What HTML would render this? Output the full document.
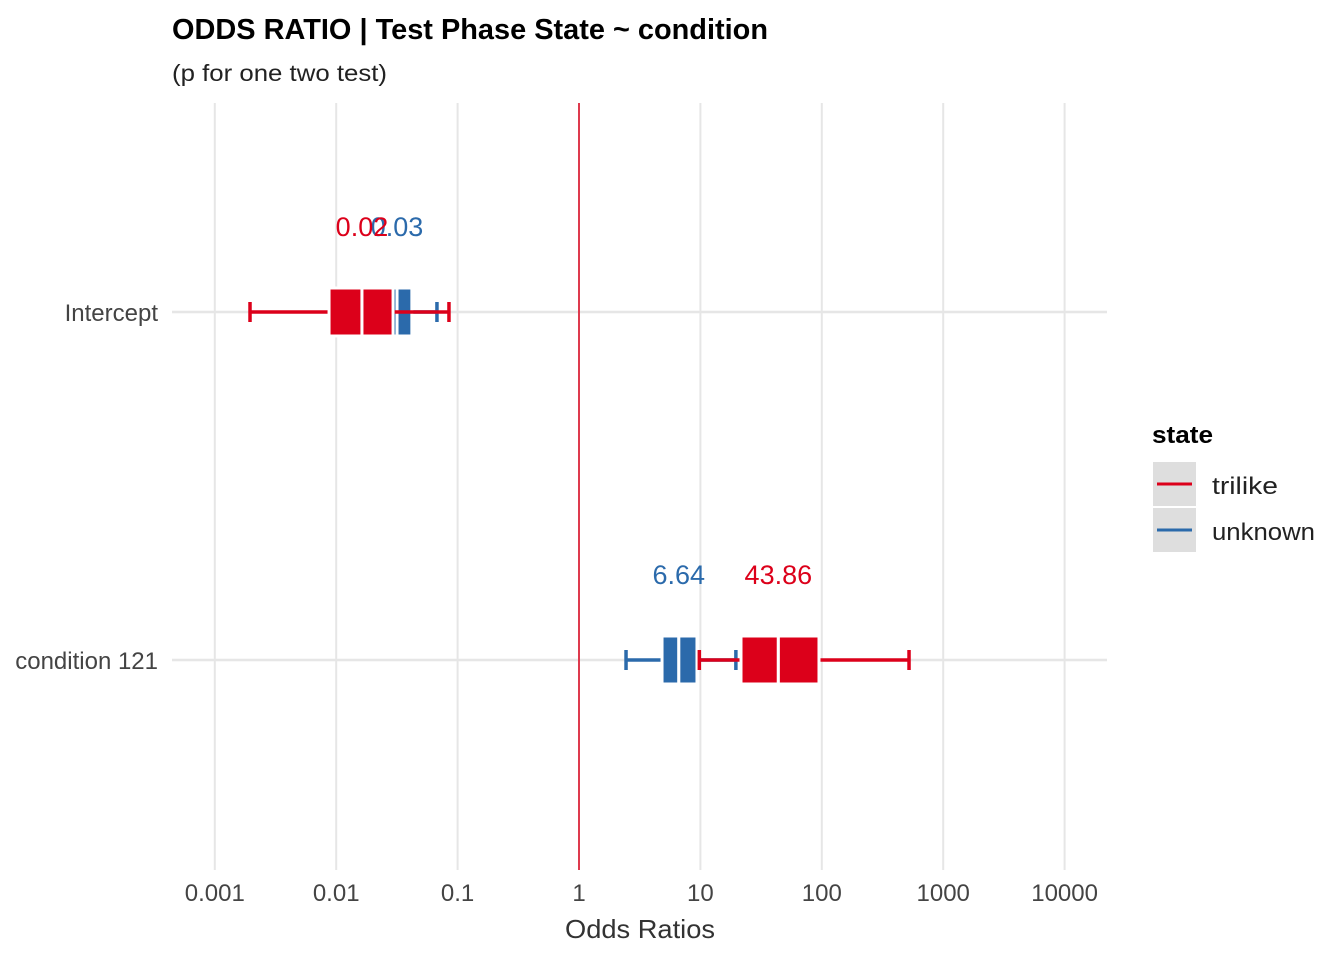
<!DOCTYPE html>
<html><head><meta charset="utf-8"><style>
body{margin:0;background:#fff;}
svg{display:block;font-family:"Liberation Sans",sans-serif;}
</style></head><body>
<svg id="chart" width="1344" height="960">
<text x="172" y="39" font-size="29" font-weight="bold" textLength="596" lengthAdjust="spacingAndGlyphs">ODDS RATIO | Test Phase State ~ condition</text>
<text x="172" y="81" font-size="23" fill="#222" textLength="215" lengthAdjust="spacingAndGlyphs">(p for one two test)</text>
<g id="grid"></g>
<g id="marks"></g>
<text x="640" y="938" font-size="26" fill="#333" text-anchor="middle" textLength="150" lengthAdjust="spacingAndGlyphs">Odds Ratios</text>
<g>
<text x="1152" y="443" font-size="24" font-weight="bold" textLength="61" lengthAdjust="spacingAndGlyphs">state</text>
<rect x="1153" y="462" width="43" height="44" fill="#dedede"/>
<line x1="1157" y1="484" x2="1192" y2="484" stroke="#DC001A" stroke-width="3"/>
<text x="1212" y="494" font-size="24" fill="#222" textLength="66" lengthAdjust="spacingAndGlyphs">trilike</text>
<rect x="1153" y="508" width="43" height="44" fill="#dedede"/>
<line x1="1157" y1="530" x2="1192" y2="530" stroke="#2B6AAB" stroke-width="3"/>
<text x="1212" y="540" font-size="24" fill="#222" textLength="103" lengthAdjust="spacingAndGlyphs">unknown</text>
</g>
</svg>
<script>
const tickValues=[0.001,0.01,0.1,1,10,100,1000,10000];
const tickLabels=["0.001","0.01","0.1","1","10","100","1000","10000"];
const rows=["Intercept","condition 121"];
const series=["unknown","trilike"];
const colors={trilike:"#DC001A",unknown:"#2B6AAB"};
// per series: [intercept, condition]
const trilikeLow=[0.00195,9.8];
const trilikeQ1=[0.00873,21.6];
const trilikeEst=[0.0163,43.86];
const trilikeQ3=[0.0294,94.8];
const trilikeHigh=[0.0849,523];
const trilikeLabels=["0.02","43.86"];
const unknownLow=[0.012,2.44];
const unknownQ1=[0.02,4.83];
const unknownEst=[0.0317,6.64];
const unknownQ3=[0.042,9.37];
const unknownHigh=[0.0676,19.6];
const unknownLabels=["0.03","6.64"];

const X=v=>579+121.4*Math.log10(v);
const rowY=[312,660];
const NS="http://www.w3.org/2000/svg";
function mk(tag,attrs,parent){const e=document.createElementNS(NS,tag);for(const k in attrs)e.setAttribute(k,attrs[k]);parent.appendChild(e);return e;}
const grid=document.getElementById('grid'),marks=document.getElementById('marks');
tickValues.forEach((v,i)=>{
  const l=mk('line',{x1:X(v),x2:X(v),y1:103,y2:870,stroke:'#e6e6e6','stroke-width':2},grid);
  
  
  const t=mk('text',{x:X(v),y:901,'font-size':24,fill:'#444','text-anchor':'middle'},grid);
  t.textContent=tickLabels[i];
  
  
});
rows.forEach((r,i)=>{
  const l=mk('line',{x1:172,x2:1107,y1:rowY[i],y2:rowY[i],stroke:'#e6e6e6','stroke-width':2.5},grid);
  
  
  const t=mk('text',{x:158,y:rowY[i]+9,'font-size':24,fill:'#444','text-anchor':'end'},grid);
  t.textContent=r;
  
  
});
const ref=mk('line',{x1:X(1),x2:X(1),y1:103,y2:870,stroke:'#DC001A','stroke-width':1.5},grid);


const data={
 trilike:[trilikeLow,trilikeQ1,trilikeEst,trilikeQ3,trilikeHigh,trilikeLabels],
 unknown:[unknownLow,unknownQ1,unknownEst,unknownQ3,unknownHigh,unknownLabels]};
series.forEach(s=>{
  const [lo,q1,est,q3,hi,lab]=data[s];const c=colors[s];
  rows.forEach((r,i)=>{
    const y=rowY[i];
    const w=mk('line',{x1:X(lo[i]),x2:X(hi[i]),y1:y,y2:y,stroke:c,'stroke-width':3.5},marks);
    
    
    [lo[i],hi[i]].forEach(v=>{
      const t=mk('line',{x1:X(v),x2:X(v),y1:y-10,y2:y+10,stroke:c,'stroke-width':3.5},marks);
      
      
    });
    [[q1[i],est[i]],[est[i],q3[i]]].forEach(([a,b])=>{
      const bx=mk('rect',{x:X(a),y:y-24,width:X(b)-X(a),height:48,fill:c,stroke:'#fff','stroke-width':3},marks);
      
      
    });
    const t=mk('text',{x:X(est[i]),y:y-76,'font-size':27,fill:c,'text-anchor':'middle'},marks);
    t.textContent=lab[i];
    
    
  });
});
</script>
</body></html>
